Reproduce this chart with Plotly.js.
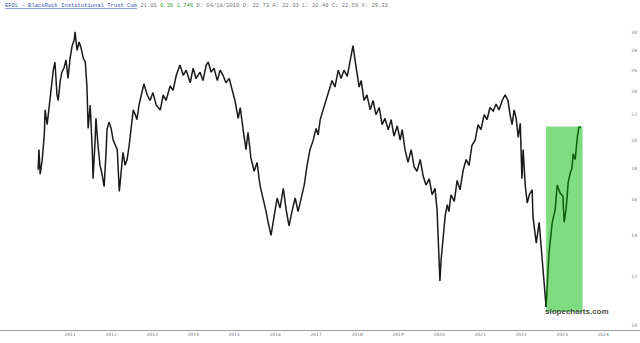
<!DOCTYPE html>
<html>
<head>
<meta charset="utf-8">
<script src="https://cdn.plot.ly/plotly-3.0.1.min.js"></script>
<style>html,body{margin:0;padding:0;background:#fff;}#chart{width:640px;height:343px;}</style>
</head>
<body>
<div id="chart"></div>
<script>
// Time in decimal years, price in USD
const histTime = [
  2010.22,2010.24,2010.27,2010.32,2010.37,2010.39,2010.44,2010.49,2010.54,2010.59,
  2010.63,2010.68,2010.71,2010.76,2010.80,2010.85,2010.90,2010.95,2011.00,2011.05,
  2011.10,2011.12,2011.17,2011.22,2011.27,2011.32,2011.37,2011.41,2011.44,2011.49,
  2011.54,2011.56,2011.61,2011.63,2011.68,2011.73,2011.78,2011.83,2011.88,2011.90,
  2011.95,2012.00,2012.05,2012.10,2012.15,2012.20,2012.24,2012.29,2012.34,2012.39,
  2012.44,2012.49,2012.54,2012.59,2012.63,2012.68,2012.73,2012.80,2012.88,2012.95,
  2013.02,2013.10,2013.20,2013.27,2013.34,2013.44,2013.51,2013.59,2013.68,2013.76,
  2013.83,2013.93,2014.00,2014.07,2014.17,2014.24,2014.32,2014.37,2014.44,2014.51,
  2014.59,2014.66,2014.73,2014.80,2014.88,2014.95,2015.02,2015.10,2015.15,2015.22,
  2015.29,2015.34,2015.41,2015.49,2015.56,2015.63,2015.71,2015.78,2015.83,2015.90,
  2015.98,2016.05,2016.12,2016.20,2016.27,2016.34,2016.41,2016.49,2016.56,2016.63,
  2016.71,2016.78,2016.85,2016.93,2017.00,2017.05,2017.10,2017.17,2017.24,2017.32,
  2017.39,2017.46,2017.54,2017.61,2017.68,2017.76,2017.83,2017.90,2017.95,2018.00,
  2018.05,2018.10,2018.17,2018.24,2018.32,2018.39,2018.46,2018.54,2018.61,2018.68,
  2018.76,2018.83,2018.90,2018.98,2019.05,2019.10,2019.17,2019.24,2019.32,2019.39,
  2019.46,2019.54,2019.61,2019.68,2019.76,2019.83,2019.90,2019.95,2019.98,2020.00,
  2020.02,2020.05,2020.10,2020.15,2020.20,2020.24,2020.29,2020.37,2020.44,2020.51,
  2020.59,2020.66,2020.73,2020.80,2020.88,2020.95,2021.02,2021.10,2021.17,2021.24,
  2021.32,2021.39,2021.46,2021.54,2021.61,2021.68,2021.73,2021.78,2021.83,2021.88,
  2021.93,2021.98,2022.02,2022.05,2022.10,2022.15,2022.20,2022.27,2022.29,2022.37,
  2022.44,2022.51,2022.56,2022.61
];
const histPrice = [
  17.9,19.3,17.6,18.6,20.4,22.4,21.2,22.8,24.5,26.0,
  26.8,23.7,23.2,25.0,25.8,26.2,27.0,25.2,27.2,28.5,
  29.1,30.0,28.0,28.9,28.2,27.2,26.8,24.5,20.9,22.8,
  19.3,17.3,20.0,21.7,19.6,18.2,17.6,16.8,19.3,20.8,
  21.4,20.9,20.0,19.6,19.3,16.5,17.9,19.1,18.2,18.6,
  19.6,20.8,22.4,22.0,21.6,22.8,23.7,24.7,23.7,23.2,
  23.9,22.8,22.4,23.7,23.2,24.5,24.1,25.5,26.5,25.5,
  26.0,24.8,26.2,25.2,25.8,25.0,26.5,26.8,25.8,26.2,
  25.0,26.0,25.5,24.8,25.2,24.1,23.2,21.7,22.6,20.8,
  19.3,20.6,18.7,17.8,18.4,16.9,16.1,15.3,14.7,14.0,
  15.1,16.1,15.5,16.7,15.4,14.5,15.3,16.1,15.3,16.0,
  16.9,18.2,19.3,20.0,20.9,20.4,21.6,22.4,23.2,24.1,
  25.0,24.4,26.0,25.2,26.0,25.4,27.0,28.5,27.0,25.5,
  24.4,25.0,23.2,23.7,22.4,23.2,22.0,22.6,21.2,21.7,
  20.8,21.6,20.3,21.1,20.0,20.8,19.3,18.4,19.3,18.1,
  17.8,18.6,17.5,16.9,17.3,16.3,16.7,15.4,13.8,12.5,
  11.8,12.8,13.8,15.1,15.7,15.3,16.3,15.9,17.2,16.6,
  17.9,18.6,18.2,19.6,20.0,21.2,20.8,22.0,21.6,22.6,
  22.3,22.9,22.4,23.2,23.7,23.2,22.0,21.2,22.4,21.7,
  20.2,21.3,17.3,19.3,16.9,15.8,16.3,16.6,15.0,13.6,
  14.7,12.9,11.7,10.7
];
const rallyTime = [2022.61,2022.68,2022.76,2022.83,2022.88,2022.95,2023.02,2023.05,2023.10,2023.15,2023.20,2023.24,2023.27,2023.32,2023.37,2023.41,2023.46];
const rallyPrice = [10.7,13.1,14.7,15.4,16.9,16.4,16.2,14.7,15.5,17.1,17.7,18.0,19.0,18.6,20.2,21.0,21.01];

const highlightStart = 2022.61, highlightEnd = 2023.50;
const highlightLow = 10.5, highlightHigh = 21.05;

const yearTicks = [2011,2012,2013,2014,2015,2016,2017,2018,2019,2020,2021,2022,2023,2024];
const yearLabels = yearTicks.map(String);
const priceTicks = [10,12,14,16,18,20,22,24,26,28,30];
const priceLabels = priceTicks.map(String);

const headerLink = 'EFOL - BlackRock Institutional Trust Com';
const headerLast = '21.01';
const headerChange = '0.36 1.74%';
const headerRest = 'D: 04/18/2019 O: 22.73 H: 22.93 L: 22.49 C: 22.59 V: 29.33';

const traces = [
  {
    x: [highlightStart, highlightEnd, highlightEnd, highlightStart, highlightStart],
    y: [highlightLow, highlightLow, highlightHigh, highlightHigh, highlightLow],
    mode: 'lines', fill: 'toself', fillcolor: '#80dc80',
    line: {width: 0, color: '#80dc80'}, hoverinfo: 'skip', showlegend: false
  },
  {
    x: histTime, y: histPrice, mode: 'lines',
    line: {color: '#1a1a1a', width: 1.5}, showlegend: false
  },
  {
    x: rallyTime, y: rallyPrice, mode: 'lines',
    line: {color: '#0b5e0b', width: 1.5}, showlegend: false
  }
];

const layout = {
  width: 640, height: 343,
  margin: {l: 0, r: 0, t: 15, b: 13},
  paper_bgcolor: '#ffffff', plot_bgcolor: '#ffffff',
  showlegend: false,
  xaxis: {
    type: 'linear', range: [2009.29, 2024.90],
    tickvals: yearTicks, ticktext: yearLabels,
    showgrid: false, zeroline: false,
    showline: true, linecolor: '#a0a0a0', linewidth: 1,
    ticks: '', tickfont: {family: 'DejaVu Sans', size: 4.5, color: '#777'}
  },
  yaxis: {
    type: 'log', range: [0.992, 1.5047], side: 'right',
    tickvals: priceTicks, ticktext: priceLabels,
    ticklabelposition: 'inside', ticks: '',
    showgrid: false, zeroline: false, showline: false,
    tickfont: {family: 'DejaVu Sans', size: 4.5, color: '#777'}
  },
  annotations: [
    {
      xref: 'paper', yref: 'paper', x: 0.005, y: 1.0286,
      xanchor: 'left', yanchor: 'middle', showarrow: false,
      font: {family: 'Liberation Mono', size: 5.5, color: '#777'},
      text: '<span style="color:#3a55b0"><u>' + headerLink + '</u></span> ' + headerLast +
            ' <span style="color:#2e9e2e">' + headerChange + '</span> ' + headerRest
    },
    {
      xref: 'paper', yref: 'paper', x: 0.9016, y: 0.06,
      xanchor: 'center', yanchor: 'middle', showarrow: false,
      font: {family: 'Liberation Sans', size: 8, color: '#505050', weight: 'bold'},
      text: '<b>slopecharts.com</b>'
    }
  ]
};

Plotly.newPlot('chart', traces, layout, {displayModeBar: false, staticPlot: true});
</script>
</body>
</html>
